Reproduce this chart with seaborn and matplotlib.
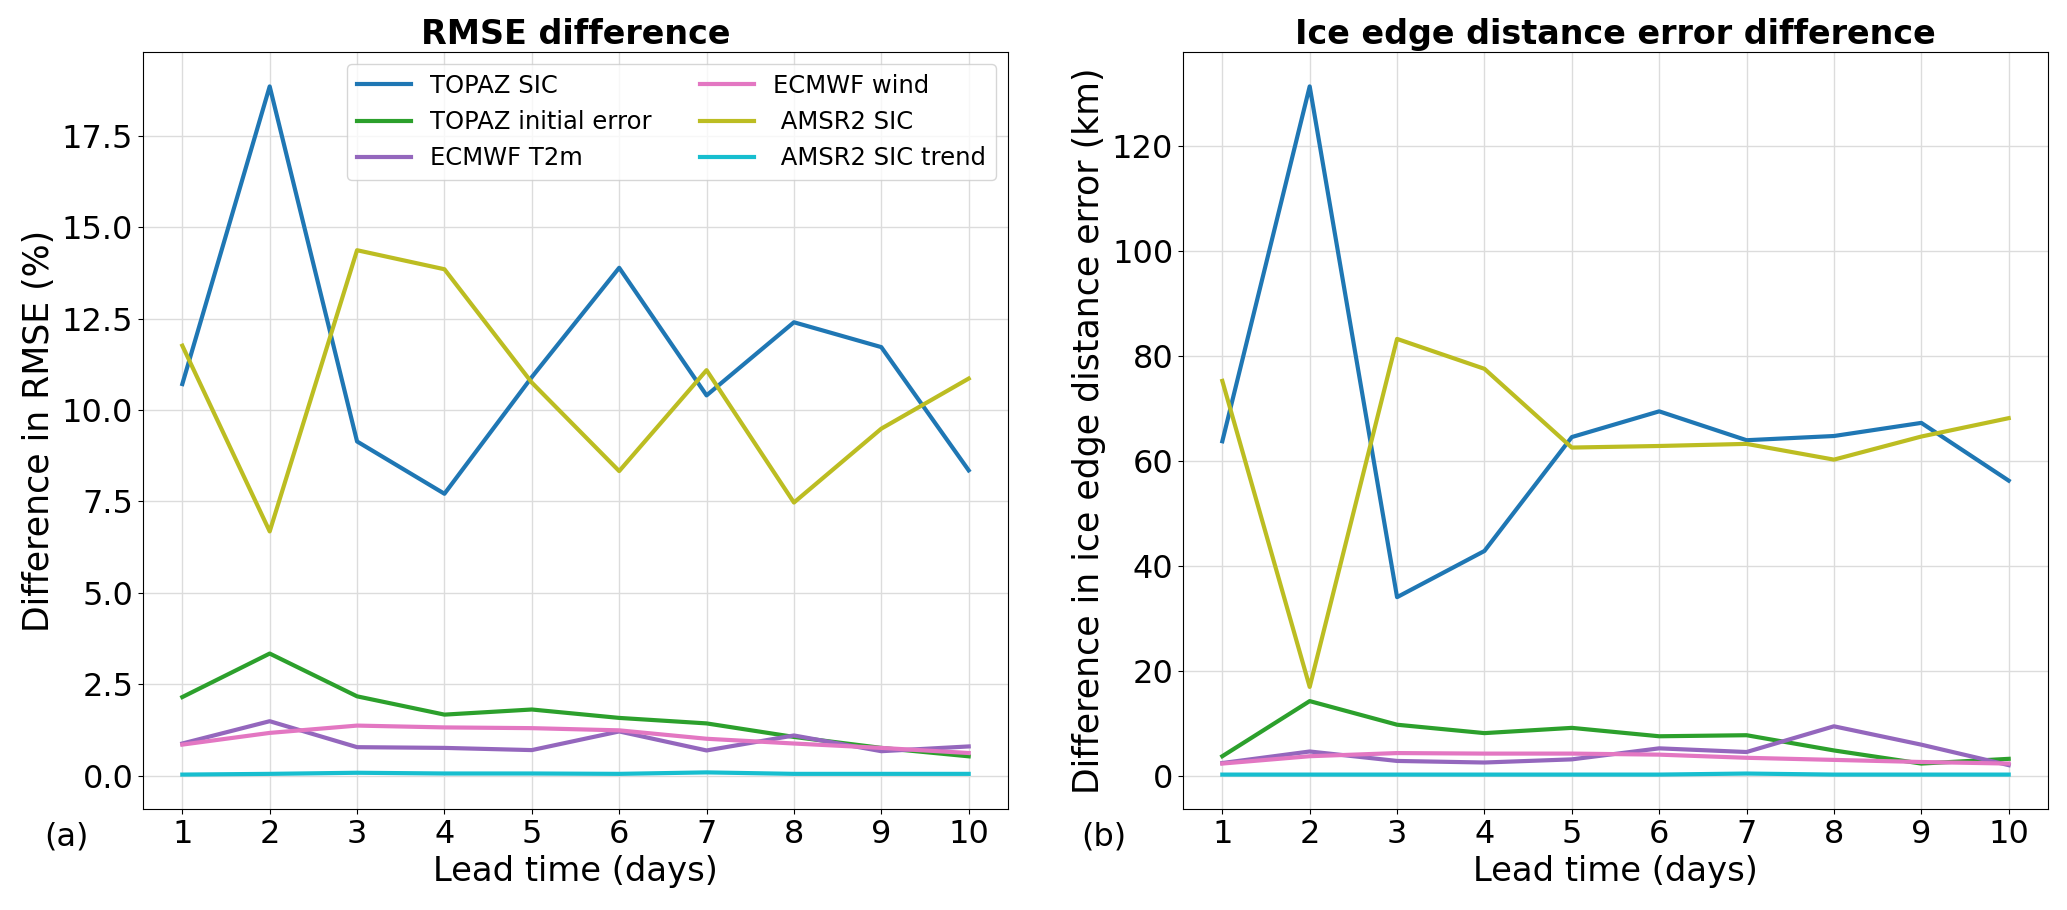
import matplotlib
matplotlib.use("Agg")
import matplotlib.pyplot as plt
import seaborn as sns
import numpy as np
import pandas as pd

lead_days = [1, 2, 3, 4, 5, 6, 7, 8, 9, 10]
series_names = ["TOPAZ SIC", "TOPAZ initial error", "ECMWF T2m", "ECMWF wind",
                " AMSR2 SIC", " AMSR2 SIC trend"]
series_colors = ["#1f77b4", "#2ca02c", "#9467bd", "#e377c2", "#bcbd22", "#17becf"]

# RMSE difference (%)
rmse_topaz_sic = [10.71, 18.85, 9.14, 7.71, 10.9, 13.89, 10.40, 12.40, 11.72, 8.35]
rmse_topaz_init = [2.15, 3.34, 2.17, 1.67, 1.81, 1.58, 1.43, 1.06, 0.76, 0.53]
rmse_ecmwf_t2m = [0.88, 1.49, 0.78, 0.76, 0.70, 1.21, 0.69, 1.10, 0.67, 0.80]
rmse_ecmwf_wind = [0.85, 1.17, 1.37, 1.32, 1.30, 1.24, 1.01, 0.88, 0.76, 0.62]
rmse_amsr2_sic = [11.76, 6.68, 14.37, 13.85, 10.75, 8.33, 11.09, 7.47, 9.49, 10.86]
rmse_amsr2_trend = [0.03, 0.05, 0.08, 0.06, 0.06, 0.05, 0.09, 0.05, 0.05, 0.05]

# Ice edge distance error difference (km)
iiee_topaz_sic = [63.7, 131.3, 34.0, 42.8, 64.5, 69.4, 63.9, 64.7, 67.2, 56.2]
iiee_topaz_init = [3.7, 14.2, 9.7, 8.1, 9.1, 7.5, 7.7, 4.8, 2.3, 3.2]
iiee_ecmwf_t2m = [2.4, 4.6, 2.8, 2.5, 3.1, 5.2, 4.5, 9.4, 5.9, 2.0]
iiee_ecmwf_wind = [2.3, 3.7, 4.3, 4.2, 4.2, 4.0, 3.4, 3.0, 2.6, 2.3]
iiee_amsr2_sic = [75.2, 16.9, 83.2, 77.5, 62.5, 62.8, 63.2, 60.2, 64.6, 68.1]
iiee_amsr2_trend = [0.2, 0.2, 0.2, 0.2, 0.2, 0.2, 0.4, 0.2, 0.2, 0.2]

rmse_series = [rmse_topaz_sic, rmse_topaz_init, rmse_ecmwf_t2m, rmse_ecmwf_wind,
               rmse_amsr2_sic, rmse_amsr2_trend]
iiee_series = [iiee_topaz_sic, iiee_topaz_init, iiee_ecmwf_t2m, iiee_ecmwf_wind,
               iiee_amsr2_sic, iiee_amsr2_trend]

fig = plt.figure(figsize=(20.67, 9.10), dpi=100)
W, H = 2067, 910
ax1 = fig.add_axes([143 / W, (H - 809) / H, 865 / W, 757 / H])
ax2 = fig.add_axes([1183 / W, (H - 809) / H, 865 / W, 757 / H])

tick_fs = 23
xlabel_fs = 24.3
ylabel_fs = 25
title_fs = 24

for ax, data in ((ax1, rmse_series), (ax2, iiee_series)):
    for name, vals, col in zip(series_names, data, series_colors):
        df = pd.DataFrame({"day": lead_days, "value": vals})
        sns.lineplot(data=df, x="day", y="value", ax=ax, color=col, lw=3,
                     label=name, legend=False)
    ax.set_xticks(lead_days)
    ax.grid(True, color="#dcdcdc", lw=1)
    ax.set_axisbelow(True)
    ax.tick_params(labelsize=tick_fs)
    ax.set_xlabel("Lead time (days)", fontsize=xlabel_fs)

ax1.set_ylabel("Difference in RMSE (%)", fontsize=ylabel_fs)
ax2.set_ylabel("Difference in ice edge distance error (km)", fontsize=ylabel_fs)
ax1.set_title("RMSE difference", fontsize=title_fs, fontweight="bold")
ax2.set_title("Ice edge distance error difference", fontsize=title_fs, fontweight="bold")

ax1.legend(loc="upper right", ncol=2, fontsize=17.5, handlelength=2.2)

ax1.text(-0.088, -0.037, "(a)", transform=ax1.transAxes, fontsize=tick_fs,
         ha="center", va="center")
ax2.text(-0.091, -0.037, "(b)", transform=ax2.transAxes, fontsize=tick_fs,
         ha="center", va="center")

fig.savefig("out.png", dpi=100)
